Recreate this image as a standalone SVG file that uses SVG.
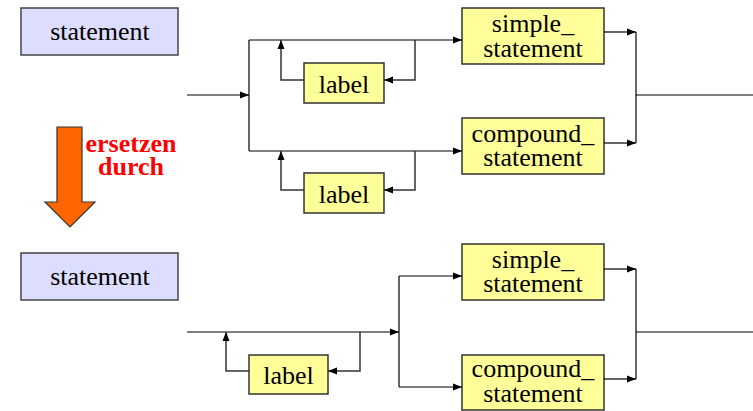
<svg xmlns="http://www.w3.org/2000/svg" width="753" height="411" viewBox="0 0 753 411">
<style>
.nt{fill:#FFFF99;stroke:#333;stroke-width:1.5}
.st{fill:#DDDDFF;stroke:#444;stroke-width:1.5}
.tx{font-family:"Liberation Serif","Times New Roman",serif;font-size:26px;fill:#000;text-anchor:middle}
.ln{fill:none;stroke:#000;stroke-width:1.2}
.lg{fill:none;stroke:#333;stroke-width:1.5}
.rd{font-family:"Liberation Serif","Times New Roman",serif;font-size:26px;font-weight:bold;fill:#FF0000;text-anchor:middle}
</style>
<defs>
<marker id="ah" markerUnits="userSpaceOnUse" markerWidth="10" markerHeight="8" refX="9" refY="4" orient="auto">
<path d="M0,0.5 L9,4 L0,7.5 z" fill="#000"/>
</marker>
</defs>

<g id="statement1"><rect class="st" x="21" y="8" width="157" height="47"/><text class="tx" x="100" y="40">statement</text></g>
<g id="statement2"><rect class="st" x="21" y="253" width="157" height="47"/><text class="tx" x="100" y="285">statement</text></g>

<g id="replace-arrow">
<path d="M57,127 H82 V202 H95 L70,227 L45,202 H57 Z" fill="#FF6600" stroke="#333" stroke-width="1.2"/>
<text class="rd" x="131" y="152">ersetzen<tspan x="131" dy="23">durch</tspan></text>
</g>

<g id="simple1"><rect class="nt" x="462" y="8" width="142" height="56"/><text class="tx" x="533" y="32">simple_<tspan x="533" dy="25">statement</tspan></text></g>
<g id="compound1"><rect class="nt" x="462" y="118" width="142" height="56"/><text class="tx" x="533" y="142">compound_<tspan x="533" dy="24">statement</tspan></text></g>
<g id="label1"><rect class="nt" x="304" y="63" width="80" height="40"/><text class="tx" x="344" y="93">label</text></g>
<g id="label2"><rect class="nt" x="304" y="173" width="80" height="40"/><text class="tx" x="344" y="203">label</text></g>

<g id="simple2"><rect class="nt" x="462" y="244" width="142" height="56"/><text class="tx" x="533" y="268">simple_<tspan x="533" dy="24">statement</tspan></text></g>
<g id="compound2"><rect class="nt" x="462" y="355" width="142" height="55"/><text class="tx" x="533" y="377">compound_<tspan x="533" dy="25">statement</tspan></text></g>
<g id="label3"><rect class="nt" x="249" y="355" width="79" height="39"/><text class="tx" x="288.5" y="384">label</text></g>

<g id="connectors">
<path class="ln" d="M187,95 H249" marker-end="url(#ah)"/>
<path class="ln" d="M249,40 V151"/>
<path class="ln" d="M249,40 H462" marker-end="url(#ah)"/>
<path class="ln" d="M249,151 H462" marker-end="url(#ah)"/>
<path class="lg" d="M304,80 H281 V40" marker-end="url(#ah)"/>
<path class="lg" d="M415,40 V80 H384" marker-end="url(#ah)"/>
<path class="lg" d="M304,190 H281 V151" marker-end="url(#ah)"/>
<path class="lg" d="M415,151 V190 H384" marker-end="url(#ah)"/>
<path class="ln" d="M604,32 H636" marker-end="url(#ah)"/>
<path class="ln" d="M604,143 H636" marker-end="url(#ah)"/>
<path class="ln" d="M636,32 V143"/>
<path class="ln" d="M636,95 H753"/>

<path class="ln" d="M187,332 H399" marker-end="url(#ah)"/>
<path class="ln" d="M399,276 V387"/>
<path class="ln" d="M399,276 H462" marker-end="url(#ah)"/>
<path class="ln" d="M399,387 H462" marker-end="url(#ah)"/>
<path class="lg" d="M249,371 H226 V332" marker-end="url(#ah)"/>
<path class="lg" d="M360,332 V371 H328" marker-end="url(#ah)"/>
<path class="ln" d="M604,269 H636" marker-end="url(#ah)"/>
<path class="ln" d="M604,379 H636" marker-end="url(#ah)"/>
<path class="ln" d="M636,269 V379"/>
<path class="ln" d="M636,332 H753"/>
</g>
</svg>
